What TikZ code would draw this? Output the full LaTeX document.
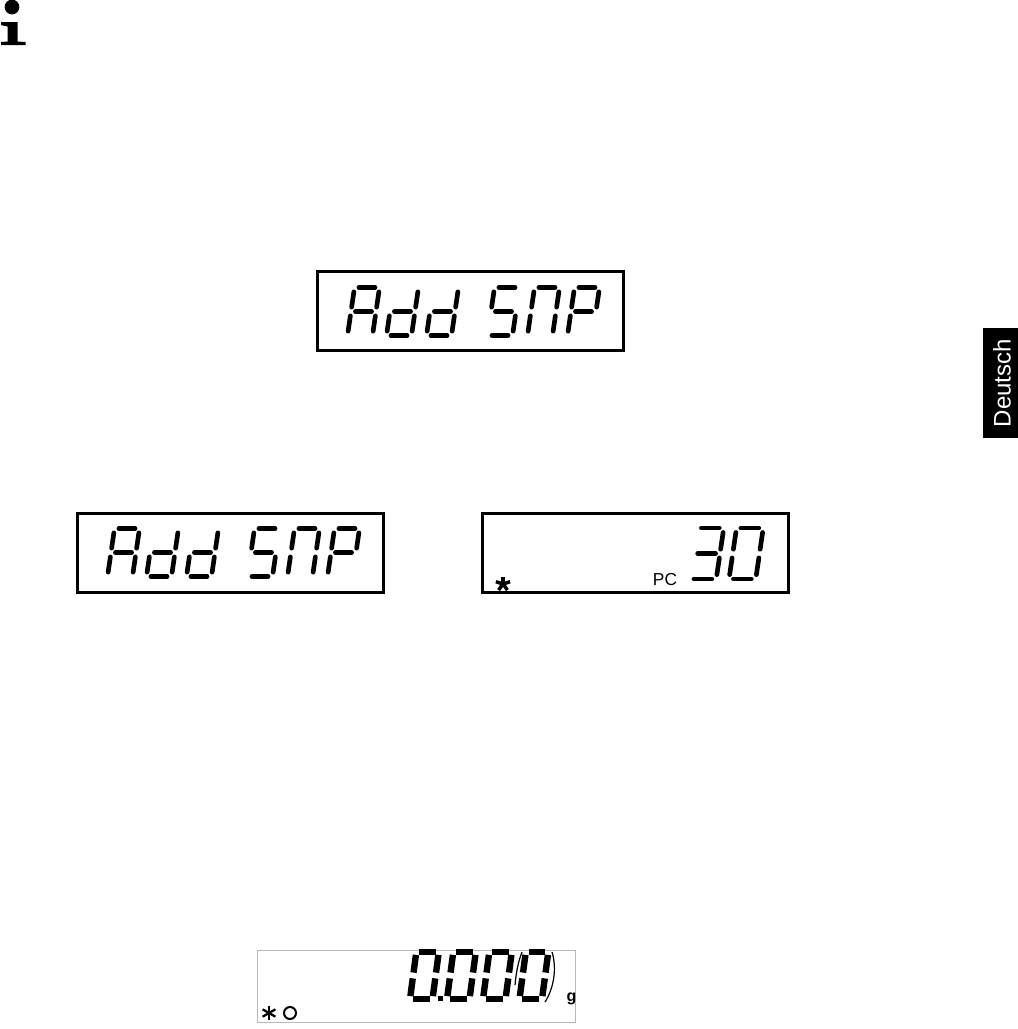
\documentclass[tikz,border=0pt]{standalone}
\usepackage{fontspec}
\setmainfont{Liberation Sans}
\usetikzlibrary{positioning}

% segment lists for the display glyphs
\newcommand{\glyphA}{bl/ml,ml/tl,tl/tr,tr/mr,mr/br,ml/mr}
\newcommand{\glyphd}{tr/mr,mr/br,br/bl,bl/ml,ml/mr}
\newcommand{\glyphS}{tr/tl,tl/ml,ml/mr,mr/br,br/bl}
\newcommand{\glyphN}{bl/ml,ml/tl,tl/tr,tr/mr,mr/br}
\newcommand{\glyphP}{bl/ml,ml/tl,tl/tr,tr/mr,mr/ml}
\newcommand{\glyphT}{tl/tr,tr/mr,mr/br,br/bl,ml/mr}
\newcommand{\glyphO}{bl/ml,ml/tl,tl/tr,tr/mr,mr/br,br/bl}

\newcommand{\lcddigit}[4][]{
	\begin{scope}[shift={(#2,#3)},#1]
		\coordinate (bl) at (0,0);
		\coordinate (br) at (25,0);
		\coordinate (ml) at (3.5,-24);
		\coordinate (mr) at (28.5,-24);
		\coordinate (tl) at (7,-48);
		\coordinate (tr) at (32,-48);
		\foreach \p/\q in #4
			\draw [lcdseg] (\p) -- (\q);
	\end{scope}
}
\newcommand{\addsnp}[2]{
	\lcddigit{#1+0}{#2}{\glyphA}
	\lcddigit{#1+39}{#2}{\glyphd}
	\lcddigit{#1+79}{#2}{\glyphd}
	\lcddigit{#1+140}{#2}{\glyphS}
	\lcddigit{#1+180}{#2}{\glyphN}
	\lcddigit{#1+220}{#2}{\glyphP}
}

\begin{document}
\begin{tikzpicture}[x=.75pt,y=-.75pt,
		lcdseg/.style={line width=3.5pt,line cap=round,shorten >=3.3pt,shorten <=3.3pt},
		lcdbox/.style={draw,line width=1.9pt,minimum width=229.5pt,minimum height=59.5pt,inner sep=0pt},
		bigdigit/.style={xscale=1.07,yscale=1.06},
		bolddigit/.style={xscale=.9,yscale=.98,lcdseg/.style={line width=4.8pt,line cap=butt,shorten >=2.2pt,shorten <=2.2pt}}]
	\useasboundingbox (0,0) rectangle (1018,1029);

	% info sign
	\fill (12,7) circle [radius=7.4];
	\fill (1,22) -- (17.5,22) -- (17.5,41.5) -- (25.5,42) -- (25.5,45) -- (1,45) -- (1,42) -- (7.5,41.5) -- (7.5,26.5) -- (1,25) -- cycle;

	% language tab
	\fill (983,328) rectangle (1018,438);
	\node (tab) at (1002,383) [rotate=90,text=white,inner sep=0pt,font=\fontsize{18}{18}\selectfont] {Deutsch};

	\node (snpa) at (470.5,311) [lcdbox] {};
	\addsnp{347.5}{335.5}

	\node (snpb) at (230.5,553) [lcdbox] {};
	\addsnp{107.5}{576.5}

	\node (pcbox) at (635.5,553) [lcdbox] {};
	\node (pclabel) at (665,579.5) [inner sep=0pt,font=\fontsize{13}{13}\selectfont] {PC};
	\lcddigit[bigdigit]{689.5}{579}{\glyphT}
	\lcddigit[bigdigit]{729}{579}{\glyphO}
	\foreach \a in {90,162,234,306,18}
		\draw [line width=2.6pt] (503,584) -- ++(\a:-7.5);

	% weighing display
	\node (zerobox) at (416.5,986.5) [draw=black!28,line width=.8pt,minimum width=238.5pt,minimum height=54.5pt,inner sep=0pt] {};
	\foreach \a in {0,60,120}
		\draw [line width=1.7pt] (269,1013) ++(\a+30:7.4) -- ++(\a+210:14.8);
	\draw [line width=1.5pt] (290,1013) circle [radius=6];
	\lcddigit[bolddigit]{410}{999}{\glyphO}
	\lcddigit[bolddigit]{447}{999}{\glyphO}
	\lcddigit[bolddigit]{483}{999}{\glyphO}
	\lcddigit[bolddigit]{519.5}{999}{\glyphO}
	\fill (437.5,995.5) rectangle (442.5,1000.5);
	\draw [line width=.9pt] (522,952) .. controls (518,962) and (516,974) .. (515,985);
	\draw [line width=.9pt] (552,952) .. controls (557,968) and (554,988) .. (545,1002);
	\node (glabel) at (571.5,998.5) [inner sep=0pt,font=\fontsize{12}{12}\selectfont\bfseries] {g};
\end{tikzpicture}
\end{document}
